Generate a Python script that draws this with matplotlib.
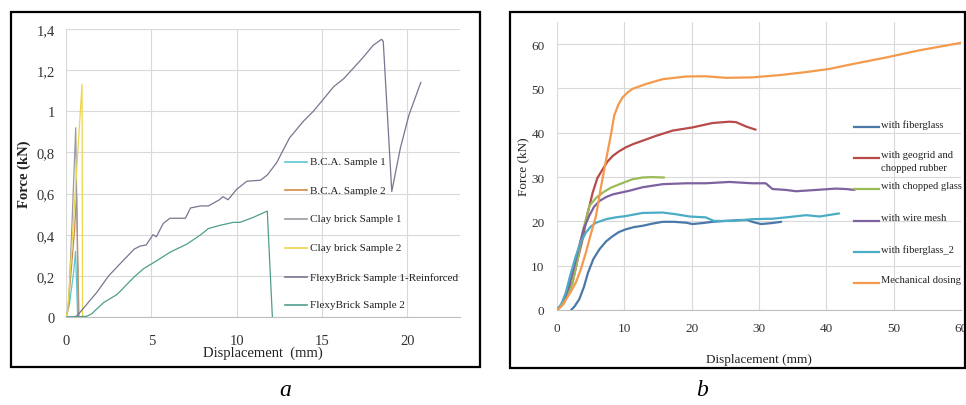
import matplotlib
matplotlib.use("Agg")
import matplotlib.pyplot as plt
from matplotlib.lines import Line2D
from matplotlib.patches import Rectangle
from matplotlib.ticker import FuncFormatter

plt.rcParams['font.family'] = ['Liberation Serif', 'DejaVu Serif']

# ---------------- Panel a data ----------------
bca1_x = [0.0, 0.2, 0.45, 0.56, 0.68]
bca1_y = [0.0, 0.06, 0.22, 0.32, 0.0]
bca2_x = [0.0, 0.1, 0.3, 0.5, 0.62, 0.76]
bca2_y = [0.0, 0.03, 0.22, 0.42, 0.60, 0.0]
clay1_x = [0.0, 0.15, 0.35, 0.57, 0.72]
clay1_y = [0.0, 0.05, 0.45, 0.92, 0.0]
clay2_x = [0.0, 0.1, 0.5, 0.94, 0.97]
clay2_y = [0.0, 0.03, 0.55, 1.13, 0.0]
flexy1_x = [0.0, 0.4, 0.64, 1.2, 1.81, 2.5, 3.3, 4.0, 4.35, 4.7, 5.1, 5.3, 5.7, 6.1,
            7.0, 7.3, 7.9, 8.35, 9.0, 9.2, 9.5, 10.0, 10.6, 11.4, 11.8, 12.35, 13.1,
            13.9, 14.5, 15.1, 15.7, 16.3, 16.85, 17.4, 18.0, 18.5, 18.6, 19.1, 19.6,
            20.1, 20.8]
flexy1_y = [0.0, 0.0, 0.005, 0.06, 0.12, 0.2, 0.27, 0.33, 0.345, 0.35, 0.40, 0.39,
            0.455, 0.48, 0.48, 0.53, 0.54, 0.54, 0.57, 0.585, 0.57, 0.62, 0.66, 0.665,
            0.69, 0.75, 0.87, 0.95, 1.0, 1.06, 1.12, 1.16, 1.21, 1.26, 1.32, 1.35,
            1.34, 0.61, 0.82, 0.98, 1.14]
flexy2_x = [0.0, 1.2, 1.5, 2.2, 3.0, 4.0, 4.55, 5.35, 6.1, 7.1, 7.9, 8.35, 9.0,
            9.8, 10.2, 11.0, 11.8, 12.1]
flexy2_y = [0.0, 0.003, 0.015, 0.07, 0.11, 0.195, 0.235, 0.275, 0.315, 0.355,
            0.40, 0.43, 0.445, 0.46, 0.46, 0.485, 0.515, 0.0]

a_labels = ["B.C.A. Sample 1", "B.C.A. Sample 2", "Clay brick Sample 1",
            "Clay brick Sample 2", "FlexyBrick Sample 1-Reinforced", "FlexyBrick Sample 2"]
a_colors = ["#5cc6d4", "#d08a44", "#9a9aa2", "#ecd64a", "#767690", "#4f9e8c"]
a_yticks = [0, 0.2, 0.4, 0.6, 0.8, 1.0, 1.2, 1.4]
a_xticks = [0, 5, 10, 15, 20]

# ---------------- Panel b data ----------------
fib_x = [2.1, 2.6, 3.3, 4.0, 4.6, 5.4, 6.3, 7.3, 8.3, 9.2, 10.2, 11.4, 12.7, 14.2,
         15.7, 17.4, 19.2, 20.1, 21.5, 23.1, 25.0, 27.1, 28.3, 29.0, 30.3, 31.8, 33.3]
fib_y = [0.0, 0.8, 2.4, 5.2, 8.4, 11.5, 13.7, 15.5, 16.7, 17.6, 18.2, 18.7, 19.0,
         19.5, 19.9, 19.9, 19.7, 19.4, 19.6, 19.9, 20.1, 20.3, 20.3, 19.9, 19.4, 19.6, 19.9]
geo_x = [0.0, 1.0, 2.3, 3.0, 3.8, 4.5, 5.3, 6.0, 6.8, 7.5, 8.3, 9.2, 10.2, 11.4,
         12.7, 14.7, 17.2, 20.1, 23.1, 25.6, 26.6, 28.1, 29.5]
geo_y = [0.0, 1.5, 6.2, 11.0, 16.0, 21.5, 26.5, 29.8, 31.8, 33.5, 34.8, 35.8, 36.7,
         37.5, 38.2, 39.3, 40.5, 41.2, 42.2, 42.5, 42.4, 41.4, 40.7]
glass_x = [0.0, 1.0, 2.3, 3.0, 3.8, 4.8, 5.8, 6.8, 8.0, 9.3, 11.2, 12.7, 14.0, 15.9]
glass_y = [0.0, 1.5, 6.0, 11.0, 17.5, 23.5, 25.3, 26.5, 27.6, 28.4, 29.5, 29.9, 30.0, 29.9]
mesh_x = [0.0, 1.0, 1.8, 2.5, 3.3, 4.0, 4.8, 5.5, 6.3, 7.3, 8.3, 10.7, 12.7, 15.7,
          19.2, 22.1, 25.6, 29.0, 31.0, 32.0, 34.0, 35.5, 38.5, 41.4, 42.9, 44.2]
mesh_y = [0.0, 2.0, 5.4, 9.5, 14.5, 18.5, 21.3, 23.3, 24.6, 25.5, 26.1, 26.9, 27.7,
          28.4, 28.6, 28.6, 28.9, 28.6, 28.6, 27.3, 27.1, 26.8, 27.1, 27.4, 27.3, 27.1]
fib2_x = [0.0, 0.6, 1.3, 2.0, 2.8, 3.5, 4.3, 5.0, 5.8, 7.3, 8.7, 10.2, 12.7, 15.7,
          17.7, 19.7, 22.1, 23.3, 26.1, 29.0, 32.0, 34.0, 37.0, 39.0, 41.9]
fib2_y = [0.0, 1.2, 3.9, 8.0, 12.2, 15.2, 17.5, 18.8, 19.7, 20.5, 20.9, 21.2, 21.9,
          22.0, 21.6, 21.1, 20.9, 20.1, 20.1, 20.5, 20.6, 20.9, 21.4, 21.1, 21.8]
mech_x = [0.0, 0.6, 1.34, 2.0, 2.8, 3.5, 4.3, 5.0, 5.8, 6.5, 7.3, 8.0, 8.5, 9.1,
          9.75, 10.5, 11.2, 13.2, 15.7, 19.2, 22.1, 25.1, 29.0, 33.0, 37.0, 40.4,
          43.9, 48.9, 53.8, 60.0]
mech_y = [0.0, 0.8, 2.4, 4.0, 6.2, 9.0, 13.0, 17.0, 21.3, 27.5, 34.0, 39.5, 43.9,
          46.3, 48.0, 49.1, 49.9, 51.0, 52.1, 52.7, 52.75, 52.4, 52.5, 53.0, 53.7,
          54.4, 55.5, 57.0, 58.6, 60.3]

b_labels = ["with fiberglass", "with geogrid and\nchopped rubber", "with chopped glass",
            "with wire mesh", "with fiberglass_2", "Mechanical dosing"]
b_colors = ["#4a78a8", "#b84a48", "#9bbb59", "#7e62a0", "#4bacc6", "#f39a4c"]
b_yticks = [0, 10, 20, 30, 40, 50, 60]
b_xticks = [0, 10, 20, 30, 40, 50, 60]

W, H = 966, 406
fig = plt.figure(figsize=(W / 100, H / 100), dpi=100)


def fx(px):
    return px / W


def fy(py):
    return 1 - py / H


grid_c = "#d9d9d9"

# outer frames
fig.add_artist(Rectangle((fx(11), fy(368)), fx(480) - fx(11), fy(13) - fy(368),
                         transform=fig.transFigure, fill=False, lw=1.6, ec="black"))
fig.add_artist(Rectangle((fx(510), fy(369)), fx(965) - fx(510), fy(13) - fy(369),
                         transform=fig.transFigure, fill=False, lw=1.6, ec="black"))

# ---------------- Panel a ----------------
axa = fig.add_axes([fx(66), fy(318), fx(460) - fx(66), fy(30) - fy(318)])
series_a = [(bca1_x, bca1_y), (bca2_x, bca2_y), (clay1_x, clay1_y),
            (clay2_x, clay2_y), (flexy1_x, flexy1_y), (flexy2_x, flexy2_y)]
for (xs, ys), c in zip(series_a, a_colors):
    axa.plot(xs, ys, color=c, lw=0.9)
axa.set_xlim(0, 23.1)
axa.set_ylim(0, 1.4)
axa.set_xticks(a_xticks)
axa.set_yticks(a_yticks)
axa.yaxis.set_major_formatter(FuncFormatter(lambda v, p: ("%g" % round(v, 1)).replace(".", ",")))
axa.grid(True, color=grid_c, lw=0.8)
axa.set_axisbelow(True)
for s in ["top", "right", "left"]:
    axa.spines[s].set_visible(False)
axa.spines["bottom"].set_color("#bfbfbf")
axa.tick_params(axis="x", length=0, labelsize=10.5, colors="#333333", pad=12)
axa.tick_params(axis="y", length=0, labelsize=10.5, colors="#333333", pad=8)
axa.set_xlabel("Displacement  (mm)", fontsize=10.5, labelpad=-1, color="#222222")
axa.set_ylabel("Force (kN)", fontsize=10.5, fontweight="bold", labelpad=4, color="#222222")

a_leg_y = [163, 191, 220, 249, 278, 306]
for lab, c, yy in zip(a_labels, a_colors, a_leg_y):
    fig.add_artist(Line2D([fx(285), fx(307)], [fy(yy), fy(yy)], color=c, lw=1.2,
                          transform=fig.transFigure))
    fig.text(fx(310), fy(yy), lab, fontsize=8.0, va="center", ha="left", color="#222222")

# ---------------- Panel b ----------------
axb = fig.add_axes([fx(557), fy(311), fx(961) - fx(557), fy(23) - fy(311)])
series_b = [(fib_x, fib_y), (geo_x, geo_y), (glass_x, glass_y),
            (mesh_x, mesh_y), (fib2_x, fib2_y), (mech_x, mech_y)]
for (xs, ys), c in zip(series_b, b_colors):
    axb.plot(xs, ys, color=c, lw=1.6, solid_capstyle="round", solid_joinstyle="round")
axb.set_xlim(0, 60)
axb.set_ylim(0, 65)
axb.set_xticks(b_xticks)
axb.set_yticks(b_yticks)
axb.grid(True, color=grid_c, lw=0.8)
axb.set_axisbelow(True)
for s in ["top", "right", "left"]:
    axb.spines[s].set_visible(False)
axb.spines["bottom"].set_color("#bfbfbf")
axb.tick_params(length=0, labelsize=9.5, colors="#333333", pad=9)
axb.set_xlabel("Displacement (mm)", fontsize=9.5, labelpad=13, color="#222222")
axb.set_ylabel("Force (kN)", fontsize=9.5, labelpad=1, color="#222222")

b_leg_y = [128, 159, 190, 222, 253, 284]
for lab, c, yy in zip(b_labels, b_colors, b_leg_y):
    fig.add_artist(Line2D([fx(854), fx(879)], [fy(yy), fy(yy)], color=c, lw=1.6,
                          transform=fig.transFigure))
    fig.text(fx(881), fy(yy) + 0.02, lab, fontsize=7.6, va="top", ha="left",
             color="#222222", linespacing=1.6)

# panel letters
fig.text(fx(285), fy(391), "a", fontsize=17, style="italic", ha="center", va="center")
fig.text(fx(702), fy(391), "b", fontsize=17, style="italic", ha="center", va="center")

fig.savefig("out.png", dpi=100)
